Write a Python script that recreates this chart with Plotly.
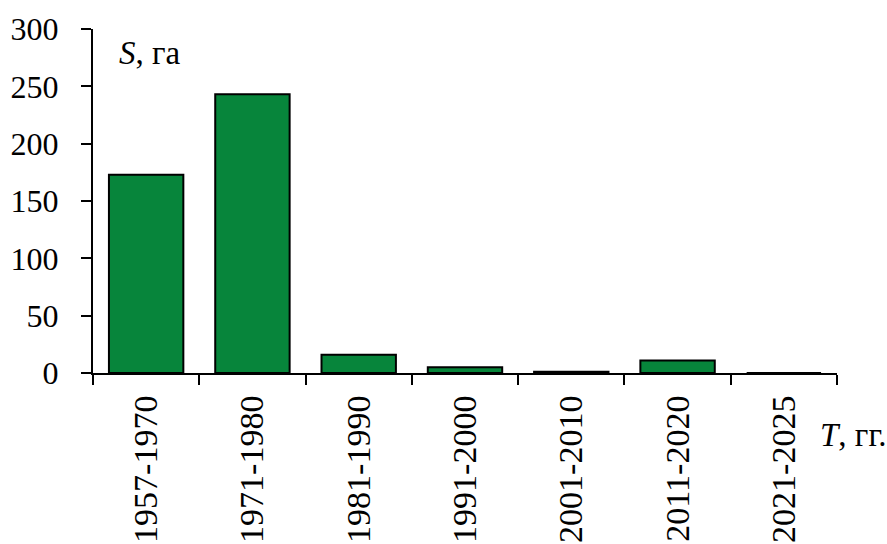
import plotly.graph_objects as go

# Areas by period
periods = ["1957-1970", "1971-1980", "1981-1990", "1991-2000",
           "2001-2010", "2011-2020", "2021-2025"]
area_ha = [173, 243, 16, 5, 1, 11, 0]

y_ticks = [0, 50, 100, 150, 200, 250, 300]

FONT = "Liberation Serif"
fig = go.Figure(
    go.Bar(
        x=periods,
        y=area_ha,
        marker=dict(color="#07853B", line=dict(color="black", width=2)),
        width=0.70,
    )
)

fig.update_layout(
    width=887,
    height=544,
    margin=dict(l=93, r=50, t=29, b=171),
    paper_bgcolor="white",
    plot_bgcolor="white",
    showlegend=False,
    font=dict(family=FONT, size=32, color="black"),
)

fig.update_xaxes(
    type="category",
    range=[-0.5, 6.5],
    automargin=False,
    tickson="boundaries",
    ticks="outside",
    ticklen=10,
    tickwidth=2,
    tickcolor="black",
    showline=True,
    linecolor="black",
    linewidth=2,
    showgrid=False,
    tickangle=-90,
    tickfont=dict(family=FONT, size=34, color="black"),
    ticklabelstandoff=7,
)

fig.update_yaxes(
    range=[0, 300],
    automargin=False,
    tickvals=y_ticks,
    ticks="outside",
    ticklen=10,
    tickwidth=2,
    tickcolor="black",
    showline=True,
    linecolor="black",
    linewidth=2,
    showgrid=False,
    zeroline=False,
    tickfont=dict(family=FONT, size=32, color="black"),
    ticklabelstandoff=16,
)

fig.add_annotation(
    text="<i>S</i>, га", xref="paper", yref="paper",
    x=0.032, y=0.93, xanchor="left", yanchor="middle",
    showarrow=False, font=dict(family=FONT, size=33, color="black"),
)
fig.add_annotation(
    text="<i>T</i>, гг.", xref="paper", yref="paper",
    x=0.975, y=-0.18, xanchor="left", yanchor="middle",
    showarrow=False, font=dict(family=FONT, size=33, color="black"),
)

fig.write_html("out.html")
